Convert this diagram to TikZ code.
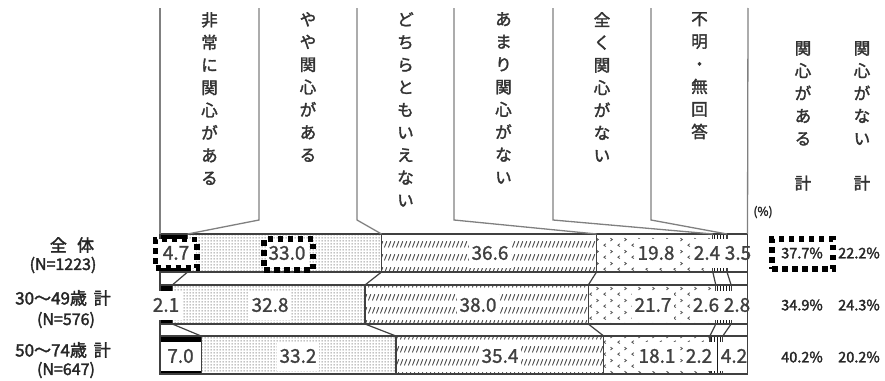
\documentclass[tikz,border=0pt]{standalone}
\usepackage{fontspec}
\setmainfont{Noto Sans CJK JP}[FakeBold=2]
\newfontfamily\lightfont{Noto Sans CJK JP}[FakeBold=1.2]
\usetikzlibrary{patterns}
\pgfdeclarepatternformonly{slashes}{\pgfqpoint{0pt}{0pt}}{\pgfqpoint{4pt}{13pt}}{\pgfqpoint{4pt}{13pt}}{%
  \pgfsetlinewidth{1.1pt}\pgfsetroundcap
  \pgfpathmoveto{\pgfqpoint{0.6pt}{3pt}}\pgfpathlineto{\pgfqpoint{3.4pt}{9pt}}\pgfusepath{stroke}}
\pgfdeclarepatternformonly{chevrons}{\pgfqpoint{0pt}{0pt}}{\pgfqpoint{14pt}{12pt}}{\pgfqpoint{14pt}{12pt}}{%
  \pgfsetlinewidth{0.9pt}
  \pgfpathmoveto{\pgfqpoint{4pt}{1.5pt}}\pgfpathlineto{\pgfqpoint{2pt}{3pt}}\pgfpathlineto{\pgfqpoint{4pt}{4.5pt}}
  \pgfpathmoveto{\pgfqpoint{9pt}{7.5pt}}\pgfpathlineto{\pgfqpoint{11pt}{9pt}}\pgfpathlineto{\pgfqpoint{9pt}{10.5pt}}
  \pgfusepath{stroke}}
\pgfdeclarepatternformonly{fdots}{\pgfqpoint{0pt}{0pt}}{\pgfqpoint{3pt}{3pt}}{\pgfqpoint{3pt}{3pt}}{%
  \pgfpathrectangle{\pgfqpoint{0.8pt}{0.8pt}}{\pgfqpoint{1.4pt}{1.4pt}}\pgfusepath{fill}}
\tikzset{
 barline/.style={draw=black!75, line width=1.2pt},
 boxline/.style={draw=black!50, line width=1.3pt},
 val/.style={fill=white, inner xsep=3pt, inner ysep=0pt, minimum height=29pt, text=black!75, font=\lightfont\fontsize{19}{19}\selectfont},
 vlab/.style={align=center, inner sep=0pt, text=black!80, font=\fontsize{16.5}{22.6}\selectfont},
 pct/.style={text=black!85, inner sep=1pt, font=\fontsize{14.5}{14.5}\selectfont},
 lft/.style={text=black!85, inner sep=0pt, font=\fontsize{17}{17}\selectfont},
 lftn/.style={text=black!85, inner sep=0pt, font=\fontsize{16}{16}\selectfont},
 hl/.style={draw=black, line width=5.5pt, dash pattern=on 5.5pt off 4.5pt, inner sep=0pt},
}
\begin{document}
\begin{tikzpicture}[x=1pt,y=-1pt]
\useasboundingbox (0,0) rectangle (885,380);
\fill[white] (0,0) rectangle (885,380);
% boundary coordinates
\foreach \k/\xa/\xb/\xc/\bx in {0/160/160/160/160, 1/187.6/172.3/201.1/259, 2/381.5/365.0/395.9/357, 3/596.5/588.3/603.7/454, 4/712.8/715.8/709.9/553, 5/727.0/731.1/722.8/651, 6/747.5/747.5/747.5/748}{
  \coordinate (t1\k) at (\xa,234); \coordinate (b1\k) at (\xa,272);
  \coordinate (t2\k) at (\xb,285); \coordinate (b2\k) at (\xb,324);
  \coordinate (t3\k) at (\xc,336); \coordinate (b3\k) at (\xc,374);
  \coordinate (top\k) at (\bx,8); \coordinate (knee\k) at (\bx,220);
}
% bars
\foreach \r in {1,2,3}{
  \fill[black] (t\r0) rectangle (b\r1);
  \fill[pattern=fdots, pattern color=black!55] (t\r1) rectangle (b\r2);
  \fill[pattern=slashes, pattern color=black!70] (t\r2) rectangle (b\r3);
  \fill[pattern=chevrons, pattern color=black!65] (t\r3) rectangle (b\r4);
  \fill[pattern=vertical lines, pattern color=black!90] (t\r4) rectangle (b\r5);
  \draw[barline] (t\r0) rectangle (b\r6);
  \foreach \k in {1,...,5}{\draw[barline] (t\r\k) -- (b\r\k);}
}
\foreach \k in {0,...,6}{
  \draw[barline] (b1\k) -- (t2\k);
  \draw[barline] (b2\k) -- (t3\k);
}
% header boxes
\draw[boxline] (top0) -- (t10);
\draw[boxline] (top6) -- (t16);
\foreach \k in {1,...,5}{\draw[boxline] (top\k) -- (knee\k) -- (t1\k);}
\node[vlab, anchor=north] (h1) at (209.5,12) {非\\常\\に\\関\\心\\が\\あ\\る};
\node[vlab, anchor=north] (h2) at (308,12) {や\\や\\関\\心\\が\\あ\\る};
\node[vlab, anchor=north] (h3) at (405.5,12) {ど\\ち\\ら\\と\\も\\い\\え\\な\\い};
\node[vlab, anchor=north] (h4) at (503.5,12) {あ\\ま\\り\\関\\心\\が\\な\\い};
\node[vlab, anchor=north] (h5) at (602,12) {全\\く\\関\\心\\が\\な\\い};
\node[vlab, anchor=north] (h6) at (699.5,12) {不\\明\\・\\無\\回\\答};
\node[vlab, anchor=north] (s1) at (803,41) {関\\心\\が\\あ\\る\\[22pt]計};
\node[vlab, anchor=north] (s2) at (862,41) {関\\心\\が\\な\\い\\[22pt]計};
\node[font=\fontsize{12}{12}\selectfont, text=black!85, inner sep=0pt] (unit) at (763,212) {(\%)};
% values
\node[val, minimum width=40pt] (v11) at (176,253) {4.7};
\node[val] (v12) at (287,253) {33.0};
\node[val] (v13) at (490,253) {36.6};
\node[val] (v14) at (656,253) {19.8};
\node[val] (v15) at (707,253) {2.4};
\node[val] (v16) at (738,253) {3.5};
\node[val] (v21) at (166,305) {2.1};
\node[val] (v22) at (270,305) {32.8};
\node[val] (v23) at (478,305) {38.0};
\node[val] (v24) at (653,305) {21.7};
\node[val] (v25) at (706,305) {2.6};
\node[val] (v26) at (737,305) {2.8};
\node[val, minimum width=40pt] (v31) at (180.5,356) {7.0};
\node[val] (v32) at (298,356) {33.2};
\node[val] (v33) at (500,356) {35.4};
\node[val] (v34) at (657,356) {18.1};
\node[val] (v35) at (699,356) {2.2};
\node[val] (v36) at (734,356) {4.2};
\draw[barline] (t16) -- (b36);
% totals
\node[pct] (p11) at (802,253) {37.7\%};
\node[pct] (p12) at (859,253) {22.2\%};
\node[pct] (p21) at (802,305) {34.9\%};
\node[pct] (p22) at (859,305) {24.3\%};
\node[pct] (p31) at (802,357) {40.2\%};
\node[pct] (p32) at (859,357) {20.2\%};
% row labels
\node[lft] (g1) at (72,245) {全\hspace{0.6em}体};
\node[lftn] (n1) at (63,265) {(N=1223)};
\node[lft] (g2) at (63,298) {30～49歳\hspace{0.4em}計};
\node[lftn] (n2) at (66,320) {(N=576)};
\node[lft] (g3) at (63,350) {50～74歳\hspace{0.4em}計};
\node[lftn] (n3) at (66,370) {(N=647)};
% highlight boxes
\node[hl, minimum width=41.5pt, minimum height=28.5pt] (hl1) at (176.25,253.75) {};
\node[hl, minimum width=49pt, minimum height=31pt] (hl2) at (288.5,254.5) {};
\node[hl, minimum width=61pt, minimum height=30pt] (hl3) at (802.5,254) {};
\end{tikzpicture}
\end{document}
